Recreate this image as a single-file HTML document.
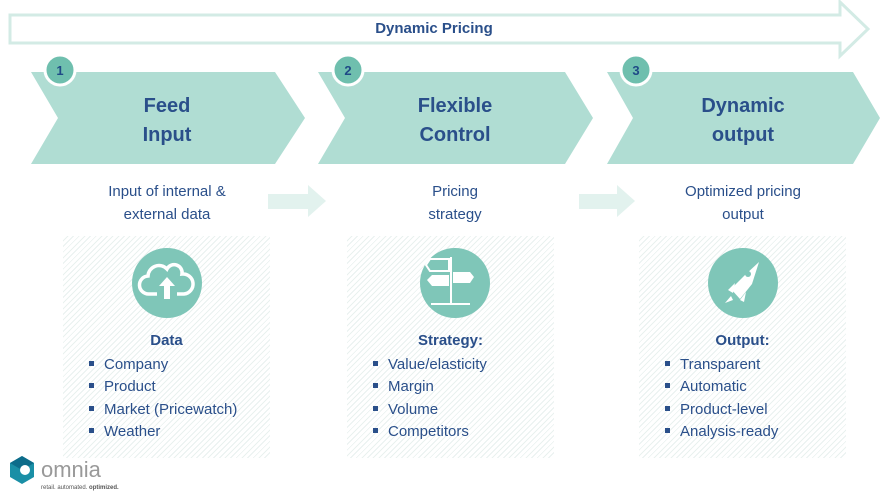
<!DOCTYPE html>
<html><head><meta charset="utf-8"><style>
body{margin:0;width:891px;height:504px;background:#fff;position:relative;overflow:hidden;font-family:"Liberation Sans",sans-serif;color:#2a4f8a}
.t{position:absolute;text-align:center;white-space:nowrap}
.box{position:absolute;top:236px;width:207px;height:222px;background:repeating-linear-gradient(135deg,#fff 0 3px,#e9f1ef 3px 4px)}
.h{position:absolute;font-weight:bold;font-size:15px;width:207px;text-align:center;top:332px}
ul{position:absolute;top:354px;margin:0;padding:0;list-style:none;font-size:15px;line-height:22.3px}
li:before{content:"";display:inline-block;width:5px;height:5px;background:#2a4f8a;margin:0 10px 3px 0}
</style></head><body>
<svg width="891" height="504" style="position:absolute;left:0;top:0">
<polygon points="10,15 840,15 840,2 868,29 840,56 840,43 10,43" fill="#fff" stroke="#d3ebe5" stroke-width="3"/>
<polygon points="31,72 275,72 305,118 275,164 31,164 58,118" fill="#b0ddd3"/>
<polygon points="318,72 565,72 593,118 565,164 318,164 345,118" fill="#b0ddd3"/>
<polygon points="607,72 853,72 880,118 853,164 607,164 633,118" fill="#b0ddd3"/>
<g fill="#e2f2ee"><polygon points="268,194 308,194 308,185 326,201 308,217 308,209 268,209"/>
<polygon points="579,194 617,194 617,185 635,201 617,217 617,209 579,209"/></g>
<g fill="#6fbfae" stroke="#fff" stroke-width="3">
<circle cx="60" cy="70" r="15"/><circle cx="348" cy="70" r="15"/><circle cx="636" cy="70" r="15"/></g>
<g fill="#1f4a86" font-family="Liberation Sans" font-weight="bold" font-size="13" text-anchor="middle">
<text x="60" y="75">1</text><text x="348" y="75">2</text><text x="636" y="75">3</text></g>
</svg>
<div class="t" style="left:0;width:868px;top:20px;font-size:15px;font-weight:bold">Dynamic Pricing</div>
<div class="t" style="left:67px;width:200px;top:92px;font-size:20px;font-weight:bold;line-height:29px">Feed<br>Input</div>
<div class="t" style="left:355px;width:200px;top:92px;font-size:20px;font-weight:bold;line-height:29px">Flexible<br>Control</div>
<div class="t" style="left:643px;width:200px;top:92px;font-size:20px;font-weight:bold;line-height:29px">Dynamic<br>output</div>
<div class="t" style="left:67px;width:200px;top:180px;font-size:15px;line-height:23px">Input of internal &amp;<br>external data</div>
<div class="t" style="left:355px;width:200px;top:180px;font-size:15px;line-height:23px">Pricing<br>strategy</div>
<div class="t" style="left:643px;width:200px;top:180px;font-size:15px;line-height:23px">Optimized pricing<br>output</div>
<div class="box" style="left:63px"></div><div class="box" style="left:347px"></div><div class="box" style="left:639px"></div>
<svg width="891" height="504" style="position:absolute;left:0;top:0">
<g fill="#7fc6b8"><circle cx="167" cy="283" r="35"/><circle cx="455" cy="283" r="35"/><circle cx="743" cy="283" r="35"/></g>
<g fill="none" stroke="#fff" stroke-width="3.5">
<path d="M157,294 h-8 a9,9 0 0 1 -1,-18 a11,11 0 0 1 19,-7 a8,8 0 0 1 15,5 a8,8 0 0 1 2,20 h-7"/>
</g>
<polygon points="167,277 175,286 170,286 170,299 164,299 164,286 159,286" fill="#fff"/>
<g stroke="#fff" stroke-width="2" fill="none">
<line x1="451" y1="257" x2="451" y2="303"/><line x1="431" y1="304" x2="470" y2="304"/>
<polygon points="426,265 430,259 449,259 449,271 430,271"/></g>
<polygon points="453,272 470,272 474,277 470,283 453,283" fill="#fff"/>
<polygon points="449,275 432,275 427,280 432,286 449,286" fill="#fff"/>
<path d="M759,262 L752,284 L740,299 L731,289 L745,275 Z" fill="#fff"/>
<circle cx="748" cy="274" r="3" fill="#7fc6b8"/>
<path d="M735,283 L728,290 L733,293 Z M746,292 L740,300 L744,302 Z M731,296 L725,303 L733,300" fill="#fff"/>
</svg>
<div class="h" style="left:63px">Data</div>
<div class="h" style="left:347px">Strategy:</div>
<div class="h" style="left:639px">Output:</div>
<ul style="left:89px"><li>Company</li><li>Product</li><li>Market (Pricewatch)</li><li>Weather</li></ul>
<ul style="left:373px"><li>Value/elasticity</li><li>Margin</li><li>Volume</li><li>Competitors</li></ul>
<ul style="left:665px"><li>Transparent</li><li>Automatic</li><li>Product-level</li><li>Analysis-ready</li></ul>
<svg width="40" height="36" style="position:absolute;left:8px;top:456px"><polygon points="14,0 26,7 26,21 14,28 2,21 2,7" fill="#1a8fa6"/><polygon points="14,0 26,7 14,14 2,7" fill="#0d6c8a"/><circle cx="17" cy="14" r="5" fill="#fff"/></svg>
<div style="position:absolute;left:41px;top:457px;font-size:22px;color:#999">omnia</div>
<div style="position:absolute;left:41px;top:485px;font-size:6px;color:#555">retail. automated. <b>optimized.</b></div>
</body></html>
